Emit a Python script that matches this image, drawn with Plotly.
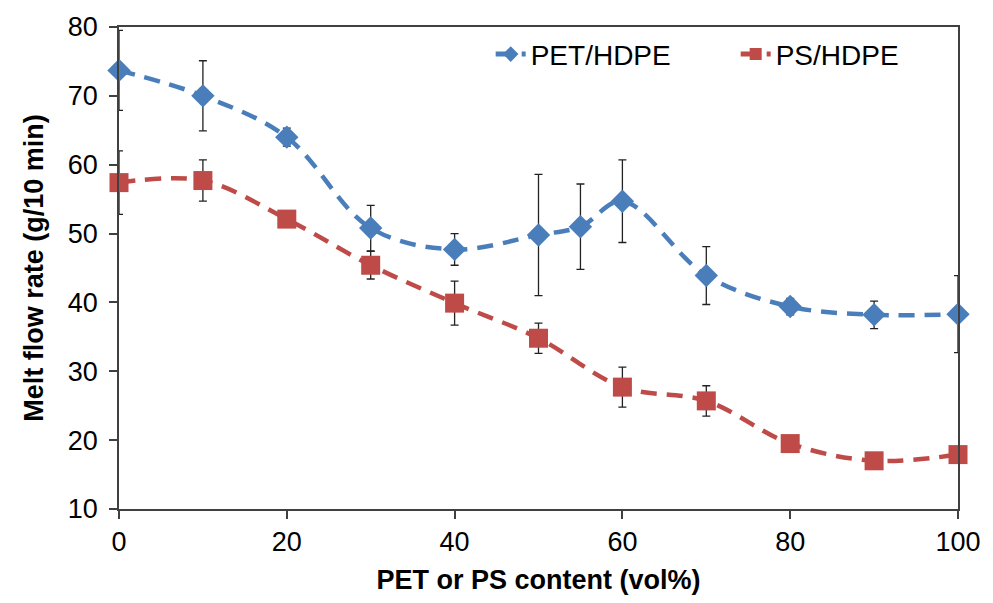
import plotly.graph_objects as go

# Data
pet_x = [0, 10, 20, 30, 40, 50, 55, 60, 70, 80, 90, 100]
pet_y = [73.7, 70.0, 64.0, 50.8, 47.7, 49.8, 51.0, 54.7, 43.9, 39.4, 38.2, 38.3]
pet_err = [5.8, 5.1, 1.3, 3.3, 2.3, 8.8, 6.2, 6.0, 4.2, 1.2, 2.0, 5.6]

ps_x = [0, 10, 20, 30, 40, 50, 60, 70, 80, 90, 100]
ps_y = [57.4, 57.7, 52.1, 45.4, 39.9, 34.8, 27.7, 25.7, 19.5, 17.0, 17.9]
ps_err = [4.6, 3.0, 0.0, 2.0, 3.2, 2.2, 2.9, 2.2, 0.0, 0.0, 0.0]

x_ticks = [0, 20, 40, 60, 80, 100]
y_ticks = [10, 20, 30, 40, 50, 60, 70, 80]

BLUE = "#4A7EBB"
RED = "#BE4B48"
FONT = "Liberation Sans, Arial, sans-serif"

fig = go.Figure()
fig.add_trace(go.Scatter(
    x=pet_x, y=pet_y, name="PET/HDPE", mode="lines+markers",
    line=dict(color=BLUE, width=4.5, dash="16px,10px", shape="spline", smoothing=1.0),
    marker=dict(symbol="diamond", size=18, color=BLUE, line=dict(color=BLUE, width=0)),
    error_y=dict(type="data", array=pet_err, visible=True, color="#222222", thickness=1.3, width=4),
    cliponaxis=False,
))
fig.add_trace(go.Scatter(
    x=ps_x, y=ps_y, name="PS/HDPE", mode="lines+markers",
    line=dict(color=RED, width=4.5, dash="16px,10px", shape="spline", smoothing=1.0),
    marker=dict(symbol="square", size=19, color=RED, line=dict(color=RED, width=0)),
    error_y=dict(type="data", array=ps_err, visible=True, color="#222222", thickness=1.3, width=4),
    cliponaxis=False,
))

fig.update_layout(
    width=993, height=603,
    margin=dict(l=119, r=28, t=20, b=94),
    paper_bgcolor="white", plot_bgcolor="white",
    font=dict(family=FONT, size=26, color="black"),
    showlegend=True,
    legend=dict(
        orientation="h", x=0.443, y=0.995, xanchor="left", yanchor="top",
        font=dict(family=FONT, size=28, color="black"),
        bgcolor="rgba(0,0,0,0)", itemwidth=30, entrywidth=200,
        itemsizing="constant",
    ),
    xaxis=dict(
        range=[0, 100], tickvals=x_ticks, ticktext=[str(v) for v in x_ticks],
        showgrid=False, zeroline=False,
        showline=True, linecolor="#404040", linewidth=1.5, mirror=True,
        ticks="outside", ticklen=8, tickcolor="#404040", tickwidth=1.5,
        tickfont=dict(family=FONT, size=27, color="black"),
        title=dict(text="<b>PET or PS content (vol%)</b>",
                   font=dict(family=FONT, size=27, color="black"), standoff=14),
    ),
    yaxis=dict(
        range=[10, 80], tickvals=y_ticks, ticktext=[str(v) for v in y_ticks],
        showgrid=False, zeroline=False,
        showline=True, linecolor="#404040", linewidth=1.5, mirror=True,
        ticks="outside", ticklen=8, tickcolor="#404040", tickwidth=1.5,
        ticklabelstandoff=6,
        tickfont=dict(family=FONT, size=27, color="black"),
        title=dict(text="<b>Melt flow rate (g/10 min)</b>",
                   font=dict(family=FONT, size=27, color="black"), standoff=16),
    ),
)

fig.write_html("out.html")
